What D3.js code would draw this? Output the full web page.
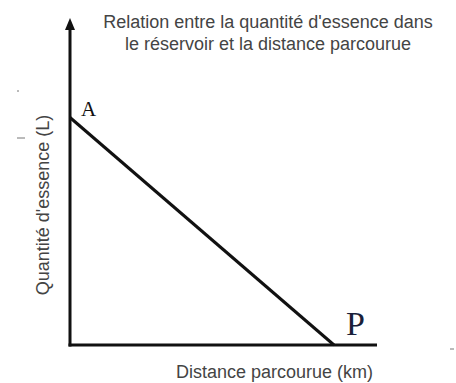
<!DOCTYPE html>
<html>
<head>
<meta charset="utf-8">
<script src="https://cdn.jsdelivr.net/npm/d3@7"></script>
<style>
  html, body { margin: 0; padding: 0; background: #fff; }
  svg { display: block; }
</style>
</head>
<body>
<svg id="chart" width="456" height="383"></svg>
<script>
// Fuel in the tank (L) against distance travelled (km), in relative units
const titleLines = ["Relation entre la quantité d'essence dans", "le réservoir et la distance parcourue"];
const xLabel = "Distance parcourue (km)";
const yLabel = "Quantité d'essence (L)";
const pointNames = ["A", "P"];
const distance = [0, 86];
const fuel = [70, 0];

const svg = d3.select("#chart");
const x = d3.scaleLinear().domain([0, 100]).range([70, 377]);
const y = d3.scaleLinear().domain([0, 100]).range([345, 20]);

const ink = "#111";
const textCol = "#444";
const sans = "Liberation Sans, Arial, sans-serif";
const serif = "Liberation Serif, Times New Roman, serif";

// Vertical axis with arrowhead
svg.append("line")
  .attr("x1", x(0)).attr("y1", y(0) + 1.5)
  .attr("x2", x(0)).attr("y2", y(100) + 8)
  .attr("stroke", ink).attr("stroke-width", 3);

const tipY = y(100) - 2;
svg.append("path")
  .attr("d", `M${x(0)},${tipY} L${x(0) + 5},${tipY + 12} L${x(0) - 5},${tipY + 12} Z`)
  .attr("fill", ink);

// Horizontal axis
svg.append("line")
  .attr("x1", x(0) - 1.5).attr("y1", y(0))
  .attr("x2", x(100)).attr("y2", y(0))
  .attr("stroke", ink).attr("stroke-width", 3);

// Fuel line from A to P
const pts = distance.map((d, i) => ({ d, f: fuel[i], name: pointNames[i] }));
svg.append("path")
  .datum(pts)
  .attr("d", d3.line().x(p => x(p.d)).y(p => y(p.f)))
  .attr("fill", "none")
  .attr("stroke", ink)
  .attr("stroke-width", 3);

// Point labels
svg.append("text")
  .attr("x", x(pts[0].d) + 11).attr("y", y(pts[0].f) - 2)
  .attr("font-family", serif)
  .attr("font-size", 21)
  .attr("fill", ink)
  .text(pts[0].name);

svg.append("text")
  .attr("x", x(pts[1].d) + 12).attr("y", y(pts[1].f) - 10)
  .attr("font-family", serif)
  .attr("font-size", 34)
  .attr("fill", "#1a1f3a")
  .text(pts[1].name);

// Title
svg.append("text")
  .attr("x", 268).attr("y", 28)
  .attr("text-anchor", "middle")
  .attr("font-family", sans)
  .attr("font-size", 18)
  .attr("fill", textCol)
  .selectAll("tspan")
  .data(titleLines)
  .join("tspan")
  .attr("x", 268)
  .attr("dy", (d, i) => i === 0 ? 0 : 22)
  .text(d => d);

// Axis titles
svg.append("text")
  .attr("x", 373).attr("y", 378)
  .attr("text-anchor", "end")
  .attr("font-family", sans)
  .attr("font-size", 18)
  .attr("fill", textCol)
  .text(xLabel);

svg.append("text")
  .attr("transform", "translate(49,205) rotate(-90)")
  .attr("text-anchor", "middle")
  .attr("font-family", sans)
  .attr("font-size", 18)
  .attr("fill", textCol)
  .text(yLabel);

// Small stray dashes around the frame
const dashes = [
  { x1: 17, y1: 91, x2: 19, y2: 91 },
  { x1: 17, y1: 138, x2: 25, y2: 138 },
  { x1: 450, y1: 349, x2: 454, y2: 349 }
];
svg.selectAll("line.dash")
  .data(dashes)
  .join("line")
  .attr("class", "dash")
  .attr("x1", d => d.x1).attr("y1", d => d.y1)
  .attr("x2", d => d.x2).attr("y2", d => d.y2)
  .attr("stroke", "#777").attr("stroke-width", 1);
</script>
</body>
</html>
